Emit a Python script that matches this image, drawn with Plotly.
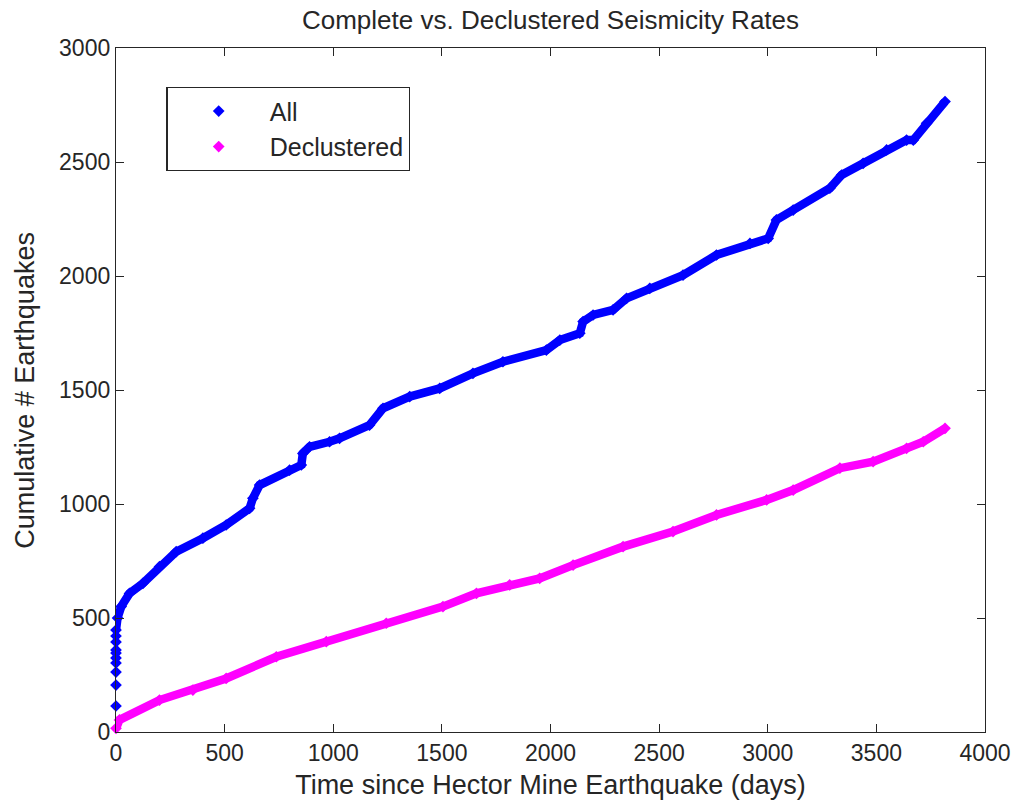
import plotly.graph_objects as go

# Cumulative earthquake counts after the Hector Mine mainshock
all_days = [0, 0, 0, 0, 0, 0, 0, 0, 0, 0, 7, 24, 62, 124, 200, 277, 400, 507, 615, 630,
            661, 799, 853, 860, 891, 983, 1029, 1167, 1229, 1352, 1490, 1643, 1781, 1981,
            2043, 2135, 2150, 2196, 2288, 2350, 2457, 2610, 2764, 2918, 3002, 3040, 3117,
            3286, 3340, 3439, 3547, 3639, 3670, 3731, 3816]
all_counts = [114, 206, 263, 303, 325, 346, 360, 395, 421, 447, 500, 550, 608, 652, 725, 791,
              850, 908, 981, 1025, 1083, 1149, 1171, 1222, 1251, 1273, 1288, 1346, 1420, 1471,
              1507, 1573, 1624, 1675, 1719, 1749, 1800, 1829, 1851, 1902, 1946, 2004, 2092,
              2143, 2165, 2246, 2289, 2385, 2443, 2494, 2553, 2596, 2596, 2670, 2765]

decl_days = [0, 16, 200, 354, 507, 738, 968, 1244, 1505, 1659, 1812, 1950, 2104, 2334,
             2564, 2764, 2995, 3117, 3332, 3485, 3639, 3716, 3816]
decl_counts = [16, 53, 140, 184, 235, 330, 396, 477, 550, 608, 645, 674, 732, 813, 879,
               952, 1018, 1061, 1157, 1186, 1244, 1273, 1332]

x_ticks = [0, 500, 1000, 1500, 2000, 2500, 3000, 3500, 4000]
y_ticks = [0, 500, 1000, 1500, 2000, 2500, 3000]

BLUE = "#0000ff"
MAGENTA = "#ff00ff"
FONT = "Liberation Sans, Arial, sans-serif"
INK = "#262626"

fig = go.Figure()

# continuous bands (first event block on the axis stays as separate markers)
fig.add_trace(go.Scatter(x=all_days[9:], y=all_counts[9:], mode="lines",
                         line=dict(color=BLUE, width=8.5), showlegend=False,
                         hoverinfo="skip", cliponaxis=False))
fig.add_trace(go.Scatter(x=decl_days, y=decl_counts, mode="lines",
                         line=dict(color=MAGENTA, width=8.5), showlegend=False,
                         hoverinfo="skip", cliponaxis=False))

# event markers
fig.add_trace(go.Scatter(x=all_days, y=all_counts, mode="markers", name="All",
                         marker=dict(symbol="diamond", size=9, color=BLUE),
                         cliponaxis=False))
fig.add_trace(go.Scatter(x=decl_days, y=decl_counts, mode="markers", name="Declustered",
                         marker=dict(symbol="diamond", size=9, color=MAGENTA),
                         cliponaxis=False))

axis_common = dict(
    showline=True, linecolor=INK, linewidth=1.3, mirror="ticks",
    ticks="inside", ticklen=8, tickwidth=1.3, tickcolor=INK,
    showgrid=False, zeroline=False,
    tickfont=dict(family=FONT, size=23, color=INK),
)

fig.update_xaxes(range=[0, 4000], tickvals=x_ticks, **axis_common,
                 title=dict(text="Time since Hector Mine Earthquake (days)",
                            font=dict(family=FONT, size=27, color=INK), standoff=10))
fig.update_yaxes(range=[0, 3000], tickvals=y_ticks, **axis_common)

fig.update_layout(
    width=1016, height=808,
    paper_bgcolor="white", plot_bgcolor="white",
    margin=dict(l=116, r=31, t=48, b=76, autoexpand=False),
    title=dict(text="Complete vs. Declustered Seismicity Rates", x=0.5, xref="paper",
               y=0.975, yref="container", yanchor="middle",
               font=dict(family=FONT, size=26, color=INK)),
    legend=dict(x=0.058, y=0.943, xanchor="left", yanchor="top",
                bgcolor="white", bordercolor=INK, borderwidth=1.3,
                font=dict(family=FONT, size=25, color=INK),
                itemwidth=92, tracegroupgap=0),
    showlegend=True,
    annotations=[dict(text="Cumulative # Earthquakes", textangle=-90,
                      xref="paper", yref="paper", x=-0.105, y=0.5,
                      xanchor="center", yanchor="middle", showarrow=False,
                      font=dict(family=FONT, size=27, color=INK))],
)

fig.write_html("out.html")
